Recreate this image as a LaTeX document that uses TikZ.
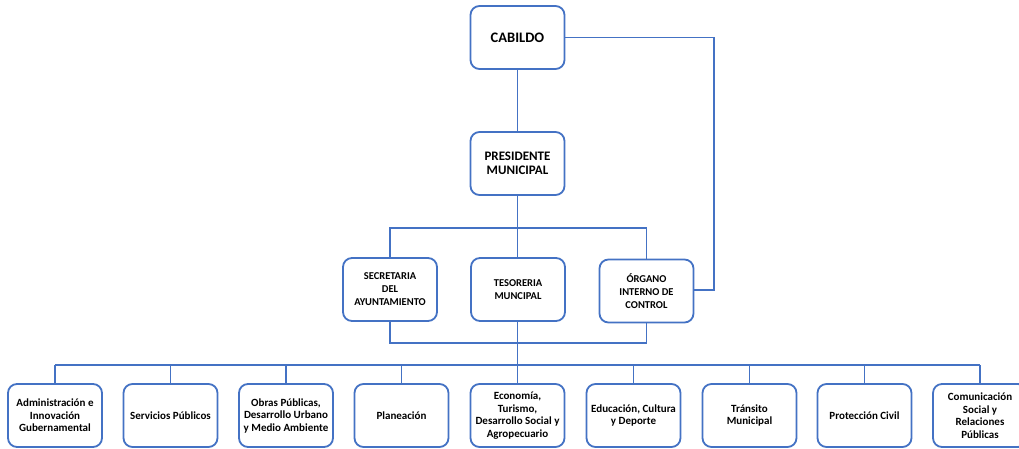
\documentclass[tikz,border=0pt]{standalone}
\usepackage{fontspec}
\setmainfont{Carlito}
\definecolor{lineblue}{RGB}{68,114,196}
\begin{document}
\begin{tikzpicture}[x=1pt,y=-1pt,
  box/.style={draw=lineblue, line width=1.8pt, rounded corners=9pt, fill=white,
    align=center, inner sep=0pt, minimum width=94pt, minimum height=63pt,
    text=black},
  midfont/.style={font=\bfseries\fontsize{10.5}{13}\selectfont},
  lowfont/.style={font=\bfseries\fontsize{11}{12.5}\selectfont},
  conn/.style={draw=lineblue, line width=1.5pt}]
\useasboundingbox (0,0) rectangle (1019,448);
\clip (0,0) rectangle (1019,448);
\fill[white] (0,0) rectangle (1019,448);

% top
\node[box, font=\bfseries\fontsize{14.5}{17}\selectfont] (cab) at (517.5,37.5) {CABILDO};
\node[box, font=\bfseries\fontsize{13}{14.5}\selectfont] (pres) at (517.5,163.5) {PRESIDENTE\\MUNICIPAL};

% middle
\node[box, midfont] (sec) at (390,289.5) {SECRETARIA\\DEL\\AYUNTAMIENTO};
\node[box, midfont] (tes) at (518,289.5) {TESORERIA\\MUNCIPAL};
\node[box, midfont] (org) at (646.5,291) {ÓRGANO\\INTERNO DE\\CONTROL};

% bottom
\node[box, lowfont] (b1) at (55,415.5) {Administración e\\Innovación\\Gubernamental};
\node[box, lowfont] (b2) at (170.5,415.5) {Servicios Públicos};
\node[box, lowfont] (b3) at (286,415.5) {Obras Públicas,\\Desarrollo Urbano\\y Medio Ambiente};
\node[box, lowfont] (b4) at (401.5,415.5) {Planeación};
\node[box, lowfont] (b5) at (517.5,415.5) {Economía,\\Turismo,\\Desarrollo Social y\\Agropecuario};
\node[box, lowfont] (b6) at (633.5,415.5) {Educación, Cultura\\y Deporte};
\node[box, lowfont] (b7) at (749.5,415.5) {Tránsito\\Municipal};
\node[box, lowfont] (b8) at (864.5,415.5) {Protección Civil};
\node[box, lowfont] (b9) at (980,415.5) {Comunicación\\Social y\\Relaciones\\Públicas};

% connectors
\coordinate (rt) at (714,37.5);
\coordinate (rb) at (714,290);
\draw[conn] (cab.east) -- (rt) -- (rb) -- (org.east |- rb);
\draw[conn] (cab.south) -- (pres.north);

\coordinate (bus1) at (517.5,228);
\draw[conn] (pres.south) -- (bus1);
\draw[conn] (sec.north) -- (sec.north |- bus1) -- (org.north |- bus1) -- (org.north);
\draw[conn] (bus1) -- (tes.north -| bus1);

\coordinate (bus2) at (517.5,343);
\draw[conn] (sec.south) -- (sec.south |- bus2) -- (org.south |- bus2) -- (org.south);
\draw[conn] (tes.south -| bus2) -- (bus2);

\coordinate (bus3) at (517.5,365);
\draw[conn] (bus2) -- (bus3);
\draw[conn] (b1.north |- bus3) -- (b9.north |- bus3);
\foreach \b in {b1,b2,b3,b4,b5,b6,b7,b8,b9}
  \draw[conn] (\b.north |- bus3) -- (\b.north);
\end{tikzpicture}
\end{document}
